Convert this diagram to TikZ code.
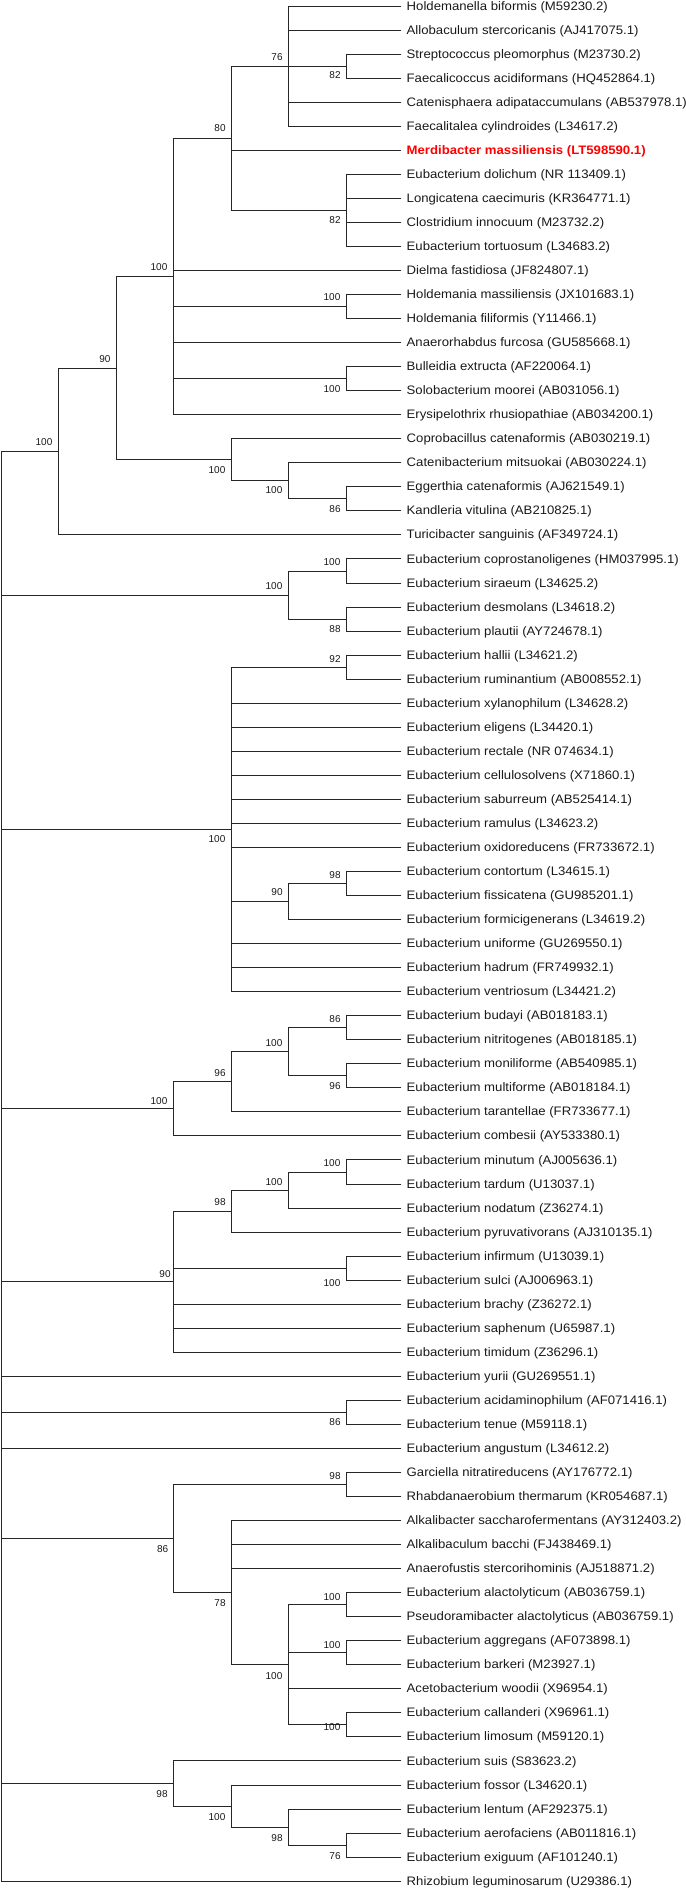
\documentclass[tikz,border=0pt]{standalone}
\usepackage{fontspec}
\setmainfont{Liberation Sans}
\newfontfamily\leaffont{Liberation Sans}[FakeStretch=1.07]
\usetikzlibrary{calc}
\definecolor{merd}{RGB}{255,0,0}
\tikzset{
  br/.style={draw=black!85, line width=0.9pt, line cap=rect},
  leaf/.style={anchor=west, inner xsep=5.5pt, inner ysep=0pt, font=\leaffont\fontsize{12.3}{15}\selectfont, text=black!90},
  bs/.style={inner sep=0pt, font=\fontsize{10}{12}\selectfont, text=black!90}
}
\newcommand\kids[2]{\foreach \c in {#2}{\draw[br] (#1 |- \c) -- (\c);}}
\newcommand\vbar[3]{\draw[br] (#1 |- #2) -- (#1 |- #3);}
\begin{document}
\begin{tikzpicture}[x=1pt,y=-1pt]
\useasboundingbox (0,0) rectangle (685,1889);
% leaves
\foreach [count=\i] \t in {
Holdemanella biformis (M59230.2),
Allobaculum stercoricanis (AJ417075.1),
Streptococcus pleomorphus (M23730.2),
Faecalicoccus acidiformans (HQ452864.1),
Catenisphaera adipataccumulans (AB537978.1),
Faecalitalea cylindroides (L34617.2),
{\textcolor{merd}{\bfseries Merdibacter massiliensis (LT598590.1)}},
Eubacterium dolichum (NR 113409.1),
Longicatena caecimuris (KR364771.1),
Clostridium innocuum (M23732.2),
Eubacterium tortuosum (L34683.2),
Dielma fastidiosa (JF824807.1),
Holdemania massiliensis (JX101683.1),
Holdemania filiformis (Y11466.1),
Anaerorhabdus furcosa (GU585668.1),
Bulleidia extructa (AF220064.1),
Solobacterium moorei (AB031056.1),
Erysipelothrix rhusiopathiae (AB034200.1),
Coprobacillus catenaformis (AB030219.1),
Catenibacterium mitsuokai (AB030224.1),
Eggerthia catenaformis (AJ621549.1),
Kandleria vitulina (AB210825.1),
Turicibacter sanguinis (AF349724.1),
Eubacterium coprostanoligenes (HM037995.1),
Eubacterium siraeum (L34625.2),
Eubacterium desmolans (L34618.2),
Eubacterium plautii (AY724678.1),
Eubacterium hallii (L34621.2),
Eubacterium ruminantium (AB008552.1),
Eubacterium xylanophilum (L34628.2),
Eubacterium eligens (L34420.1),
Eubacterium rectale (NR 074634.1),
Eubacterium cellulosolvens (X71860.1),
Eubacterium saburreum (AB525414.1),
Eubacterium ramulus (L34623.2),
Eubacterium oxidoreducens (FR733672.1),
Eubacterium contortum (L34615.1),
Eubacterium fissicatena (GU985201.1),
Eubacterium formicigenerans (L34619.2),
Eubacterium uniforme (GU269550.1),
Eubacterium hadrum (FR749932.1),
Eubacterium ventriosum (L34421.2),
Eubacterium budayi (AB018183.1),
Eubacterium nitritogenes (AB018185.1),
Eubacterium moniliforme (AB540985.1),
Eubacterium multiforme (AB018184.1),
Eubacterium tarantellae (FR733677.1),
Eubacterium combesii (AY533380.1),
Eubacterium minutum (AJ005636.1),
Eubacterium tardum (U13037.1),
Eubacterium nodatum (Z36274.1),
Eubacterium pyruvativorans (AJ310135.1),
Eubacterium infirmum (U13039.1),
Eubacterium sulci (AJ006963.1),
Eubacterium brachy (Z36272.1),
Eubacterium saphenum (U65987.1),
Eubacterium timidum (Z36296.1),
Eubacterium yurii (GU269551.1),
Eubacterium acidaminophilum (AF071416.1),
Eubacterium tenue (M59118.1),
Eubacterium angustum (L34612.2),
Garciella nitratireducens (AY176772.1),
Rhabdanaerobium thermarum (KR054687.1),
Alkalibacter saccharofermentans (AY312403.2),
Alkalibaculum bacchi (FJ438469.1),
Anaerofustis stercorihominis (AJ518871.2),
Eubacterium alactolyticum (AB036759.1),
Pseudoramibacter alactolyticus (AB036759.1),
Eubacterium aggregans (AF073898.1),
Eubacterium barkeri (M23927.1),
Acetobacterium woodii (X96954.1),
Eubacterium callanderi (X96961.1),
Eubacterium limosum (M59120.1),
Eubacterium suis (S83623.2),
Eubacterium fossor (L34620.1),
Eubacterium lentum (AF292375.1),
Eubacterium aerofaciens (AB011816.1),
Eubacterium exiguum (AF101240.1),
Rhizobium leguminosarum (U29386.1)}
{\coordinate (t\i) at (401,{6+(\i-1)*24.04});
 \node[leaf] (l\i) at ([yshift=-0.9pt]t\i) {\t};}
% internal nodes
\coordinate (root) at (1,451.5);
\coordinate (nA) at (58.5,451.5);
\coordinate (n90) at (116,368.1);
\coordinate (n100a) at (173.5,276.4);
\coordinate (n80) at (231,138.2);
\coordinate (n76) at (288.5,66.1);
\coordinate (n82a) at (346,66.1);
\coordinate (n82b) at (346,210.3);
\coordinate (n100h) at (346,306.5);
\coordinate (n100b) at (346,378.6);
\coordinate (n100c) at (231,459.8);
\coordinate (n100d) at (288.5,480.8);
\coordinate (n86a) at (346,498.8);
\coordinate (nB) at (288.5,595.0);
\coordinate (n100e) at (346,571.0);
\coordinate (n88) at (346,619.0);
\coordinate (nC) at (231,829.4);
\coordinate (n92) at (346,667.1);
\coordinate (n90c) at (288.5,901.5);
\coordinate (n98a) at (346,883.5);
\coordinate (nD) at (173.5,1108.9);
\coordinate (n96) at (231,1081.8);
\coordinate (n100f) at (288.5,1051.8);
\coordinate (n86d) at (346,1027.7);
\coordinate (n96d) at (346,1075.8);
\coordinate (nE) at (173.5,1281.6);
\coordinate (n98e) at (231,1211);
\coordinate (n100x) at (288.5,1190);
\coordinate (n100g) at (346,1172.0);
\coordinate (n100i) at (346,1268.1);
\coordinate (n86r) at (346,1412.4);
\coordinate (nF) at (173.5,1538.6);
\coordinate (n98f) at (346,1484.5);
\coordinate (n78) at (231,1592.7);
\coordinate (n100m) at (288.5,1664.8);
\coordinate (n100j) at (346,1604.7);
\coordinate (n100k) at (346,1652.8);
\coordinate (n100l) at (346,1724.9);
\coordinate (nG) at (173.5,1783.5);
\coordinate (n100n) at (231,1806);
\coordinate (n98g) at (288.5,1827);
\coordinate (n76g) at (346,1845.1);
% branches
\vbar{root}{nA}{t79}
\kids{root}{nA,nB,nC,nD,nE,t58,n86r,t61,nF,nG,t79}
\vbar{nA}{n90}{t23}   \kids{nA}{n90,t23}
\vbar{n90}{n100a}{n100c} \kids{n90}{n100a,n100c}
\vbar{n100a}{n80}{t18} \kids{n100a}{n80,t12,n100h,t15,n100b,t18}
\vbar{n80}{n76}{n82b} \kids{n80}{n76,t7,n82b}
\vbar{n76}{t1}{t6} \kids{n76}{t1,t2,n82a,t5,t6}
\vbar{n82a}{t3}{t4} \kids{n82a}{t3,t4}
\vbar{n82b}{t8}{t11} \kids{n82b}{t8,t9,t10,t11}
\vbar{n100h}{t13}{t14} \kids{n100h}{t13,t14}
\vbar{n100b}{t16}{t17} \kids{n100b}{t16,t17}
\vbar{n100c}{t19}{n100d} \kids{n100c}{t19,n100d}
\vbar{n100d}{t20}{n86a} \kids{n100d}{t20,n86a}
\vbar{n86a}{t21}{t22} \kids{n86a}{t21,t22}
\vbar{nB}{n100e}{n88} \kids{nB}{n100e,n88}
\vbar{n100e}{t24}{t25} \kids{n100e}{t24,t25}
\vbar{n88}{t26}{t27} \kids{n88}{t26,t27}
\vbar{nC}{n92}{t42} \kids{nC}{n92,t30,t31,t32,t33,t34,t35,t36,n90c,t40,t41,t42}
\vbar{n92}{t28}{t29} \kids{n92}{t28,t29}
\vbar{n90c}{n98a}{t39} \kids{n90c}{n98a,t39}
\vbar{n98a}{t37}{t38} \kids{n98a}{t37,t38}
\vbar{nD}{n96}{t48} \kids{nD}{n96,t48}
\vbar{n96}{n100f}{t47} \kids{n96}{n100f,t47}
\vbar{n100f}{n86d}{n96d} \kids{n100f}{n86d,n96d}
\vbar{n86d}{t43}{t44} \kids{n86d}{t43,t44}
\vbar{n96d}{t45}{t46} \kids{n96d}{t45,t46}
\vbar{nE}{n98e}{t57} \kids{nE}{n98e,n100i,t55,t56,t57}
\vbar{n98e}{n100x}{t52} \kids{n98e}{n100x,t52}
\vbar{n100x}{n100g}{t51} \kids{n100x}{n100g,t51}
\vbar{n100g}{t49}{t50} \kids{n100g}{t49,t50}
\vbar{n100i}{t53}{t54} \kids{n100i}{t53,t54}
\vbar{n86r}{t59}{t60} \kids{n86r}{t59,t60}
\vbar{nF}{n98f}{n78} \kids{nF}{n98f,n78}
\vbar{n98f}{t62}{t63} \kids{n98f}{t62,t63}
\vbar{n78}{t64}{n100m} \kids{n78}{t64,t65,t66,n100m}
\vbar{n100m}{n100j}{n100l} \kids{n100m}{n100j,n100k,t71,n100l}
\vbar{n100j}{t67}{t68} \kids{n100j}{t67,t68}
\vbar{n100k}{t69}{t70} \kids{n100k}{t69,t70}
\vbar{n100l}{t72}{t73} \kids{n100l}{t72,t73}
\vbar{nG}{t74}{n100n} \kids{nG}{t74,n100n}
\vbar{n100n}{t75}{n98g} \kids{n100n}{t75,n98g}
\vbar{n98g}{t76}{n76g} \kids{n98g}{t76,n76g}
\vbar{n76g}{t77}{t78} \kids{n76g}{t77,t78}
% bootstrap values
\node[bs] (b1) at (277,57) {76};
\node[bs] (b2) at (335,75) {82};
\node[bs] (b3) at (220,128) {80};
\node[bs] (b4) at (335,220) {82};
\node[bs] (b5) at (159,267) {100};
\node[bs] (b6) at (332,297) {100};
\node[bs] (b7) at (105,359) {90};
\node[bs] (b8) at (332,389) {100};
\node[bs] (b9) at (44,442) {100};
\node[bs] (b10) at (217,470) {100};
\node[bs] (b11) at (274,490) {100};
\node[bs] (b12) at (335,509) {86};
\node[bs] (b13) at (332,562) {100};
\node[bs] (b14) at (274,586) {100};
\node[bs] (b15) at (335,629) {88};
\node[bs] (b16) at (335,659) {92};
\node[bs] (b17) at (217,839) {100};
\node[bs] (b18) at (335,875) {98};
\node[bs] (b19) at (277,892) {90};
\node[bs] (b20) at (335,1019) {86};
\node[bs] (b21) at (274,1043) {100};
\node[bs] (b22) at (220,1073) {96};
\node[bs] (b23) at (335,1086) {96};
\node[bs] (b24) at (159,1101) {100};
\node[bs] (b25) at (332,1163) {100};
\node[bs] (b26) at (274,1182) {100};
\node[bs] (b27) at (220,1202) {98};
\node[bs] (b28) at (165,1274) {90};
\node[bs] (b29) at (332,1283) {100};
\node[bs] (b30) at (335,1422) {86};
\node[bs] (b31) at (335,1476) {98};
\node[bs] (b32) at (162.7,1549) {86};
\node[bs] (b33) at (332,1597) {100};
\node[bs] (b34) at (220,1603) {78};
\node[bs] (b35) at (332,1645) {100};
\node[bs] (b36) at (274,1676) {100};
\node[bs] (b37) at (332,1727) {100};
\node[bs] (b38) at (162,1794) {98};
\node[bs] (b39) at (217,1817) {100};
\node[bs] (b40) at (277,1838) {98};
\node[bs] (b41) at (335,1856) {76};
\end{tikzpicture}
\end{document}
